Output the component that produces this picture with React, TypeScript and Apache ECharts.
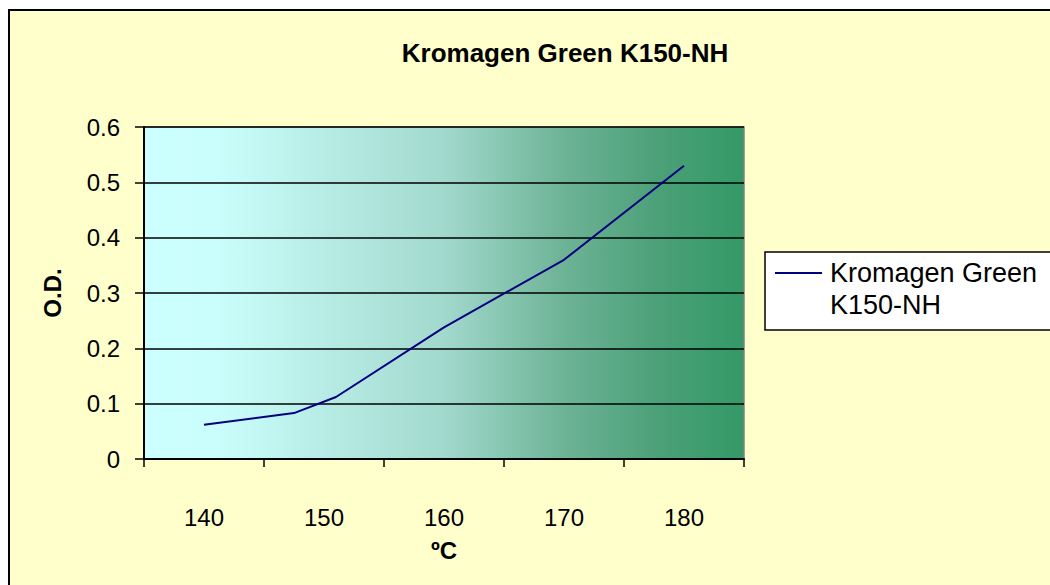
import React, { useEffect, useRef } from "react";
import * as echarts from "echarts";

const seriesName = "Kromagen Green K150-NH";
const legendLines = ["Kromagen Green", "K150-NH"];
const temps = [140, 147.5, 151, 160, 170, 180];
const od = [0.062, 0.083, 0.112, 0.238, 0.36, 0.53];
const xTickValues = [135, 145, 155, 165, 175, 185];
const xLabelValues = [140, 150, 160, 170, 180];

export default function App() {
  const ref = useRef<HTMLDivElement>(null);
  useEffect(() => {
    document.body.style.margin = "0";
    const chart = echarts.init(ref.current!, null, { renderer: "svg" });
    const font = "'Liberation Sans', Arial, sans-serif";
    chart.setOption({
      animation: false,
      backgroundColor: "#ffffff",
      textStyle: { fontFamily: font },
      graphic: [
        {
          type: "rect",
          z: -10,
          silent: true,
          shape: { x: 9, y: 10, width: 1200, height: 800 },
          style: { fill: "#FFFFCC", stroke: "#000000", lineWidth: 2 },
        },
        {
          type: "rect",
          z: -5,
          silent: true,
          shape: { x: 765, y: 252, width: 400, height: 78 },
          style: { fill: "#FFFFFF", stroke: "#000000", lineWidth: 1.5 },
        },
        {
          type: "line",
          silent: true,
          shape: { x1: 775, y1: 273, x2: 822, y2: 273 },
          style: { stroke: "#000080", lineWidth: 2 },
        },
        {
          type: "text",
          silent: true,
          x: 830,
          y: 273,
          style: {
            text: legendLines[0],
            fontFamily: font,
            fontSize: 27,
            fill: "#000",
            verticalAlign: "middle",
            textAlign: "left",
          },
        },
        {
          type: "text",
          silent: true,
          x: 830,
          y: 305,
          style: {
            text: legendLines[1],
            fontFamily: font,
            fontSize: 27,
            fill: "#000",
            verticalAlign: "middle",
            textAlign: "left",
          },
        },
      ],
      title: {
        text: seriesName,
        left: 560,
        top: 35,
        textAlign: "center",
        textStyle: { fontFamily: font, fontSize: 26, fontWeight: "bold", color: "#000" },
      },
      grid: {
        left: 144,
        top: 127,
        width: 600,
        height: 332,
        show: true,
        borderColor: "#808080",
        borderWidth: 1.5,
        backgroundColor: {
          type: "linear",
          x: 0,
          y: 0,
          x2: 1,
          y2: 0,
          colorStops: [
            { offset: 0, color: "#CCFFFF" },
            { offset: 0.12, color: "#CAFEFC" },
            { offset: 0.5, color: "#A2D9CD" },
            { offset: 0.7, color: "#6DB396" },
            { offset: 0.85, color: "#4DA179" },
            { offset: 1, color: "#339966" },
          ],
        },
      },
      xAxis: {
        type: "value",
        min: 135,
        max: 185,
        name: "ºC",
        nameLocation: "middle",
        nameGap: 79,
        nameTextStyle: { fontFamily: font, fontSize: 24, fontWeight: "bold", color: "#000" },
        axisLine: { show: true, lineStyle: { color: "#000", width: 2 } },
        axisTick: {
          show: true,
          length: 8,
          customValues: xTickValues,
          lineStyle: { color: "#000", width: 1.5 },
        },
        axisLabel: {
          customValues: xLabelValues,
          margin: 46,
          fontSize: 24,
          color: "#000",
          fontFamily: font,
        },
        splitLine: { show: false },
      },
      yAxis: {
        type: "value",
        min: 0,
        max: 0.6,
        interval: 0.1,
        name: "O.D.",
        nameLocation: "middle",
        nameGap: 80,
        nameTextStyle: { fontFamily: font, fontSize: 24, fontWeight: "bold", color: "#000" },
        axisLine: { show: true, lineStyle: { color: "#000", width: 2 } },
        axisTick: { show: true, length: 9, lineStyle: { color: "#000", width: 1.5 } },
        axisLabel: { margin: 24, fontSize: 24, color: "#000", fontFamily: font },
        splitLine: { show: true, lineStyle: { color: "#000", width: 1.5 } },
      },
      series: [
        {
          name: seriesName,
          type: "line",
          data: temps.map((t, i) => [t, od[i]]),
          showSymbol: false,
          symbol: "none",
          lineStyle: { color: "#000080", width: 2 },
          itemStyle: { color: "#000080" },
        },
      ],
    });
    return () => chart.dispose();
  }, []);
  return <div ref={ref} style={{ width: 1050, height: 585 }} />;
}
